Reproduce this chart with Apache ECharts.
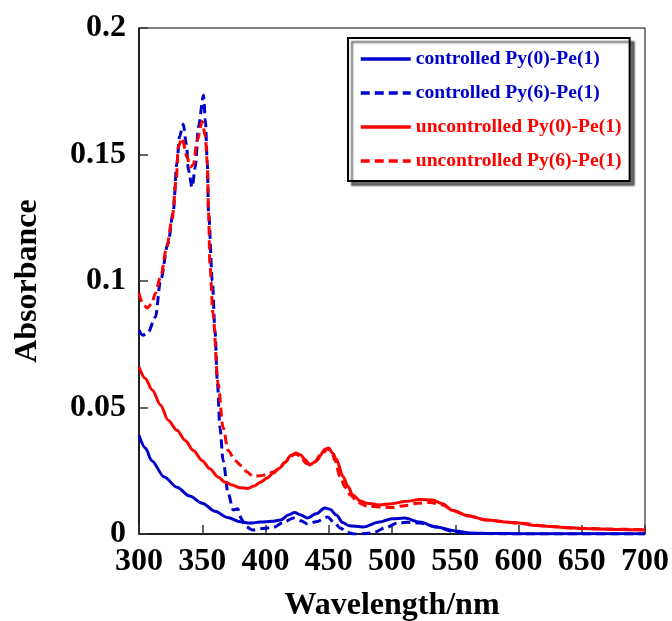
<!DOCTYPE html>
<html>
<head>
<meta charset="utf-8">
<title>Absorbance</title>
<script src="https://cdn.jsdelivr.net/npm/echarts@6/dist/echarts.min.js"></script>
<style>
  html, body { margin: 0; padding: 0; background: #fff; }
  #chart { width: 672px; height: 621px; }
</style>
</head>
<body>
<div id="chart"></div>
<script>
// 轴刻度
var xTicks = [300, 350, 400, 450, 500, 550, 600, 650, 700];
var yTicks = [0, 0.05, 0.1, 0.15, 0.2];

// controlled Py(0)-Pe(1)
var ctrl0Wl = [300, 305, 310, 320, 330, 340, 350, 360, 370, 380, 388, 396, 405, 412, 418, 423, 428, 433, 440, 447, 451, 456, 461, 466, 477, 490, 500, 510, 522, 535, 550, 562, 580, 600, 650, 700];
var ctrl0Abs = [0.039, 0.034, 0.029, 0.0225, 0.0185, 0.015, 0.0122, 0.009, 0.0065, 0.0048, 0.0043, 0.0047, 0.005, 0.0055, 0.0075, 0.0085, 0.0075, 0.0063, 0.008, 0.0103, 0.0098, 0.0075, 0.0045, 0.0033, 0.0028, 0.0047, 0.006, 0.0063, 0.0047, 0.0028, 0.0012, 0.0004, 0.0002, 0.0001, 0.0001, 0.0001];

// controlled Py(6)-Pe(1)
var ctrl6Wl = [300, 303, 307, 313, 317, 323, 327, 330, 332, 335, 337.5, 339, 342, 344.5, 347, 351, 352.5, 354, 355, 358, 360, 362, 364, 366.5, 370.5, 374.5, 378, 381, 384, 390, 398, 406, 414, 422, 428, 433, 440, 449, 454, 459, 465, 470, 478, 485, 495, 504, 512, 522, 535, 548, 560, 600, 700];
var ctrl6Abs = [0.0806, 0.0786, 0.0795, 0.0857, 0.1, 0.115, 0.127, 0.1466, 0.157, 0.162, 0.154, 0.144, 0.137, 0.145, 0.161, 0.1734, 0.1635, 0.1466, 0.127, 0.1, 0.081, 0.0596, 0.042, 0.029, 0.016, 0.0095, 0.01, 0.006, 0.003, 0.0016, 0.0022, 0.0026, 0.0045, 0.0063, 0.0052, 0.004, 0.0048, 0.0067, 0.0048, 0.0024, 0.0006, 0, 0.0001, 0.0005, 0.0025, 0.0043, 0.0046, 0.0043, 0.0028, 0.001, 0.0002, 0, 0];

// uncontrolled Py(0)-Pe(1)
var unc0Wl = [300, 305, 310.5, 317, 323, 330, 336.5, 343, 350, 356, 362.5, 368, 373.5, 380, 386, 391, 396, 401, 406, 411, 415.5, 420, 424, 428, 431, 435, 439, 443, 447, 450, 453, 456, 461.5, 465, 469, 475, 480, 490, 500, 510, 522, 532, 540, 548, 560, 575, 590, 600, 611, 625, 638, 650, 664, 680, 700];
var unc0Abs = [0.066, 0.0615, 0.0569, 0.051, 0.045, 0.041, 0.037, 0.033, 0.029, 0.0258, 0.0225, 0.0205, 0.0194, 0.0183, 0.018, 0.019, 0.0205, 0.022, 0.024, 0.026, 0.0284, 0.031, 0.032, 0.0312, 0.0295, 0.0273, 0.0285, 0.031, 0.0335, 0.034, 0.032, 0.0295, 0.0225, 0.019, 0.0154, 0.013, 0.0122, 0.0115, 0.012, 0.0128, 0.0136, 0.0134, 0.012, 0.0093, 0.0072, 0.0055, 0.0047, 0.0043, 0.0035, 0.003, 0.0025, 0.0022, 0.002, 0.0018, 0.0016];

// uncontrolled Py(6)-Pe(1)
var unc6Wl = [300, 303, 306.5, 310, 313, 317, 322, 326, 329.5, 331, 334, 338, 340.5, 343, 346, 350, 352.5, 354, 355, 356, 358.5, 362.5, 366.5, 370.5, 376, 381, 385.5, 390, 396, 401, 406, 411, 415.5, 420, 424, 428, 432, 436, 440, 444, 449, 452, 455, 459, 463, 467, 473, 480, 490, 500, 510, 520, 530, 540, 548, 560, 575, 600, 625, 650, 675, 700];
var unc6Abs = [0.0952, 0.091, 0.0893, 0.091, 0.0952, 0.1015, 0.1134, 0.124, 0.14, 0.153, 0.1565, 0.149, 0.145, 0.146, 0.1556, 0.163, 0.157, 0.1466, 0.127, 0.107, 0.087, 0.0596, 0.042, 0.033, 0.029, 0.027, 0.0245, 0.0228, 0.023, 0.0235, 0.0245, 0.026, 0.0284, 0.0308, 0.0316, 0.0305, 0.028, 0.0275, 0.0288, 0.031, 0.0336, 0.033, 0.029, 0.0225, 0.0185, 0.0154, 0.0125, 0.011, 0.0107, 0.0105, 0.0112, 0.0122, 0.0125, 0.0115, 0.0093, 0.0072, 0.0055, 0.0043, 0.003, 0.0022, 0.0019, 0.0017];

var seriesNames = ['controlled Py(0)-Pe(1)', 'controlled Py(6)-Pe(1)', 'uncontrolled Py(0)-Pe(1)', 'uncontrolled Py(6)-Pe(1)'];

var FONT = '"Liberation Serif", "Times New Roman", serif';
var BLUE = '#0000cc';
var RED = '#ff0000';

// 把两个数组拼成 [x, y]
function zip(xs, ys) {
  var out = [];
  for (var i = 0; i < xs.length; i++) {
    out.push([xs[i], ys[i]]);
  }
  return out;
}

function makeLine(name, xs, ys, color, dashed) {
  return {
    name: name,
    type: 'line',
    data: zip(xs, ys),
    showSymbol: false,
    symbol: 'none',
    smooth: 0.3,
    smoothMonotone: 'x',
    lineStyle: {
      color: color,
      width: 3,
      type: dashed ? [9, 5] : 'solid'
    },
    itemStyle: { color: color }
  };
}

var chart = echarts.init(document.getElementById('chart'), null, { renderer: 'canvas' });

var option = {
  backgroundColor: '#fff',
  animation: false,
  grid: {
    left: 139,
    right: 27,
    top: 28,
    bottom: 87,
    outerBoundsMode: 'none', // 不让 v6 自动缩小绘图区
    show: true,
    borderColor: '#000',
    borderWidth: 1
  },
  legend: {
    left: 348,
    top: 38,
    orient: 'vertical',
    padding: [11, 8, 10, 11],
    itemGap: 14,
    itemWidth: 50,
    itemHeight: 14,
    backgroundColor: '#fff',
    borderColor: '#000',
    borderWidth: 2,
    shadowColor: 'rgba(0,0,0,0.55)',
    shadowBlur: 2,
    shadowOffsetX: 4,
    shadowOffsetY: 4,
    // 图例里只要线，不要圆点
    itemStyle: { opacity: 0 },
    lineStyle: { width: 3.5 },
    textStyle: { fontFamily: FONT, fontWeight: 'bold', fontSize: 19.6 },
    data: [
      { name: seriesNames[0], textStyle: { color: BLUE } },
      { name: seriesNames[1], textStyle: { color: BLUE } },
      { name: seriesNames[2], textStyle: { color: RED } },
      { name: seriesNames[3], textStyle: { color: RED } }
    ]
  },
  xAxis: {
    type: 'value',
    min: xTicks[0],
    max: xTicks[xTicks.length - 1],
    interval: 50,
    name: 'Wavelength/nm',
    nameLocation: 'middle',
    nameGap: 56,
    nameTextStyle: { fontFamily: FONT, fontWeight: 'bold', fontSize: 32, color: '#000' },
    axisLine: { lineStyle: { color: '#000', width: 1.5 } },
    axisTick: { inside: true, length: 9, lineStyle: { color: '#333', width: 1.5 } },
    axisLabel: { margin: 12, fontFamily: FONT, fontWeight: 'bold', fontSize: 32, color: '#000' },
    splitLine: { show: false }
  },
  yAxis: {
    type: 'value',
    min: yTicks[0],
    max: yTicks[yTicks.length - 1],
    interval: 0.05,
    name: 'Absorbance',
    nameLocation: 'middle',
    nameGap: 95,
    nameTextStyle: { fontFamily: FONT, fontWeight: 'bold', fontSize: 32, color: '#000' },
    axisLine: { lineStyle: { color: '#000', width: 1.5 } },
    axisTick: { inside: true, length: 9, lineStyle: { color: '#333', width: 1.5 } },
    axisLabel: { margin: 13, fontFamily: FONT, fontWeight: 'bold', fontSize: 32, color: '#000' },
    splitLine: { show: false }
  },
  series: [
    makeLine(seriesNames[0], ctrl0Wl, ctrl0Abs, BLUE, false),
    makeLine(seriesNames[1], ctrl6Wl, ctrl6Abs, BLUE, true),
    makeLine(seriesNames[2], unc0Wl, unc0Abs, RED, false),
    makeLine(seriesNames[3], unc6Wl, unc6Abs, RED, true)
  ]
};

chart.setOption(option);
</script>
</body>
</html>
